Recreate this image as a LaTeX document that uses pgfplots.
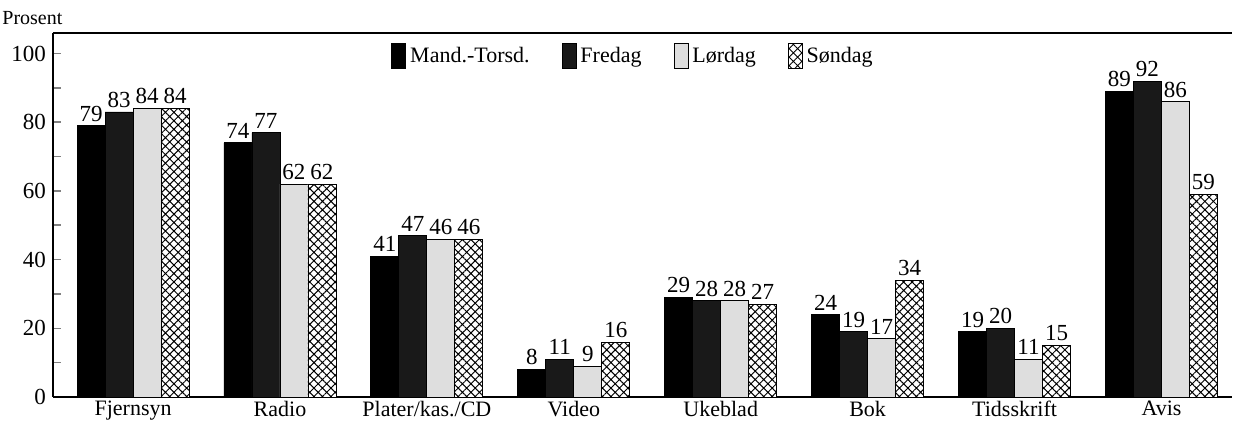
\documentclass[border=0pt]{standalone}
\usepackage{pgfplots}
\pgfplotsset{compat=1.18}
\usepackage{fontspec}
\setmainfont{Liberation Serif}
\usetikzlibrary{patterns.meta}

\pgfplotsset{
  cross/.style={fill=white, draw=black,
    postaction={pattern={Hatch[angle=45,distance=3pt,line width=0.5pt]}}},
}

\begin{document}
\begin{tikzpicture}
\useasboundingbox (-26.5pt,-12.5pt) rectangle (590pt,198.5pt);
\begin{axis}[
  width=589.5pt, height=182pt,
  scale only axis,
  ybar=0pt, bar width=14pt,
  xmin=-0.545, xmax=7.48,
  ymin=0, ymax=106,
  axis x line=box, axis y line=left,
  axis line style={-, line width=1pt},
  xtick={0,...,7},
  xticklabels={Fjernsyn,Radio,Plater/kas./CD,Video,Ukeblad,Bok,Tidsskrift,Avis},
  major x tick style={draw=none},
  ytick={0,20,...,100},
  minor y tick num=1,
  tick align=inside, ytick pos=left,
  major tick length=4pt, minor tick length=4pt,
  tick style={line width=0.8pt},
  yticklabel style={font=\fontsize{11.5}{13}\selectfont},
  xticklabel style={font=\fontsize{11}{13}\selectfont, inner sep=0pt, yshift=-1.8pt},
  /pgf/number format/assume math mode=true,
  nodes near coords,
  nodes near coords style={font=\fontsize{11.5}{13}\selectfont, inner sep=2pt},
  legend columns=4,
  legend style={draw=none, fill=none, at={(0.2816,0.985)}, anchor=north west,
    font=\fontsize{11}{13}\selectfont,
    /tikz/every even column/.append style={column sep=14pt}},
  legend image code/.code={\draw[#1] (0pt,-6pt) rectangle (7pt,6.5pt);},
  clip=false,
]
\addplot[fill=black, draw=black] coordinates {(0,79) (1,74) (2,41) (3,8) (4,29) (5,24) (6,19) (7,89)};
\addplot[fill=black!90, draw=black] coordinates {(0,83) (1,77) (2,47) (3,11) (4,28) (5,19) (6,20) (7,92)};
\addplot[fill=black!13, draw=black] coordinates {(0,84) (1,62) (2,46) (3,9) (4,28) (5,17) (6,11) (7,86)};
\addplot[cross] coordinates {(0,84) (1,62) (2,46) (3,16) (4,27) (5,34) (6,15) (7,59)};
\legend{Mand.-Torsd.,Fredag,Lørdag,Søndag}
\node[anchor=base west, font=\fontsize{10}{12}\selectfont, inner sep=0pt]
  at ([xshift=-25.5pt,yshift=4pt]rel axis cs:0,1) {Prosent};
\end{axis}
\end{tikzpicture}
\end{document}
